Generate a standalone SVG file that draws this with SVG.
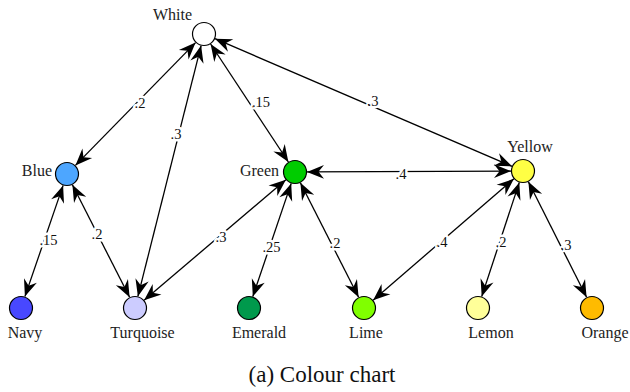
<svg xmlns="http://www.w3.org/2000/svg" width="630" height="392" viewBox="0 0 630 392" font-family="'Liberation Serif', 'Noto Serif', serif">
  <style>
    .node { stroke: #000; stroke-width: 1.2; }
    .lbl { font-size: 16px; fill: #222; }
    .edge { stroke: #000; stroke-width: 1.3; fill: none; marker-start: url(#head); marker-end: url(#head); }
    .wt { font-size: 14.5px; fill: #111; text-anchor: middle;
          stroke: #fff; stroke-width: 5; stroke-linejoin: round; paint-order: stroke; }
    .cap { font-size: 23px; fill: #111; text-anchor: middle; }
  </style>
  <defs>
    <!-- concave "stealth" arrowhead, used at both ends of every edge -->
    <marker id="head" viewBox="-18 -8 19 16" refX="0" refY="0" markerWidth="19" markerHeight="16"
            markerUnits="userSpaceOnUse" orient="auto-start-reverse">
      <path d="M0,0 L-17,-6.8 L-11.5,0 L-17,6.8 Z" fill="#000"/>
    </marker>
  </defs>
  <rect width="630" height="392" fill="#fff"/>

  <g id="connectors">
    <line class="edge" x1="195.6" y1="42.6" x2="75.4" y2="165.4"/>
    <line class="edge" x1="201.1" y1="45.6" x2="137.9" y2="296.4"/>
    <line class="edge" x1="210.6" y1="44.0" x2="288.4" y2="162.0"/>
    <line class="edge" x1="215.0" y1="38.7" x2="512.0" y2="166.3"/>
    <line class="edge" x1="63.1" y1="185.4" x2="24.9" y2="296.6"/>
    <line class="edge" x1="72.4" y1="184.7" x2="129.6" y2="297.3"/>
    <line class="edge" x1="285.9" y1="179.8" x2="144.1" y2="300.2"/>
    <line class="edge" x1="291.2" y1="183.4" x2="252.8" y2="296.6"/>
    <line class="edge" x1="300.4" y1="182.7" x2="358.6" y2="297.3"/>
    <line class="edge" x1="307.0" y1="171.9" x2="511.0" y2="171.1"/>
    <line class="edge" x1="513.9" y1="178.8" x2="373.1" y2="300.2"/>
    <line class="edge" x1="519.3" y1="182.4" x2="481.7" y2="296.6"/>
    <line class="edge" x1="528.4" y1="181.7" x2="586.6" y2="297.3"/>

    <text class="wt" x="140" y="107.5">.2</text>
    <text class="wt" x="176" y="138.5">.3</text>
    <text class="wt" x="261" y="106.5">.15</text>
    <text class="wt" x="373" y="105.5">.3</text>
    <text class="wt" x="48.5" y="244.5">.15</text>
    <text class="wt" x="97" y="238.5">.2</text>
    <text class="wt" x="221" y="241.5">.3</text>
    <text class="wt" x="271.5" y="251.5">.25</text>
    <text class="wt" x="335" y="247.5">.2</text>
    <text class="wt" x="401" y="178.5">.4</text>
    <text class="wt" x="442" y="246.5">.4</text>
    <text class="wt" x="501" y="246.5">.2</text>
    <text class="wt" x="566" y="249.5">.3</text>
  </g>

  <g id="white">
    <circle class="node" cx="204" cy="34" r="11.5" fill="#ffffff"/>
    <text class="lbl" x="192" y="20" text-anchor="end">White</text>
  </g>
  <g id="blue">
    <circle class="node" cx="67" cy="174" r="11.5" fill="#4da6ff"/>
    <text class="lbl" x="52" y="176" text-anchor="end">Blue</text>
  </g>
  <g id="green">
    <circle class="node" cx="295" cy="172" r="11.5" fill="#00cc00"/>
    <text class="lbl" x="279" y="176" text-anchor="end">Green</text>
  </g>
  <g id="yellow">
    <circle class="node" cx="523" cy="171" r="11.5" fill="#ffff44"/>
    <text class="lbl" x="530" y="152" text-anchor="middle">Yellow</text>
  </g>
  <g id="navy">
    <circle class="node" cx="21" cy="308" r="11.5" fill="#4848ff"/>
    <text class="lbl" x="25" y="338" text-anchor="middle">Navy</text>
  </g>
  <g id="turquoise">
    <circle class="node" cx="135" cy="308" r="11.5" fill="#ccccff"/>
    <text class="lbl" x="142.5" y="338" text-anchor="middle">Turquoise</text>
  </g>
  <g id="emerald">
    <circle class="node" cx="249" cy="308" r="11.5" fill="#00994c"/>
    <text class="lbl" x="259" y="338" text-anchor="middle">Emerald</text>
  </g>
  <g id="lime">
    <circle class="node" cx="364" cy="308" r="11.5" fill="#80ff00"/>
    <text class="lbl" x="366" y="338" text-anchor="middle">Lime</text>
  </g>
  <g id="lemon">
    <circle class="node" cx="478" cy="308" r="11.5" fill="#ffff99"/>
    <text class="lbl" x="491" y="338" text-anchor="middle">Lemon</text>
  </g>
  <g id="orange">
    <circle class="node" cx="592" cy="308" r="11.5" fill="#ffbb00"/>
    <text class="lbl" x="605" y="338" text-anchor="middle">Orange</text>
  </g>

  <text class="cap" x="322" y="382">(a) Colour chart</text>
</svg>
